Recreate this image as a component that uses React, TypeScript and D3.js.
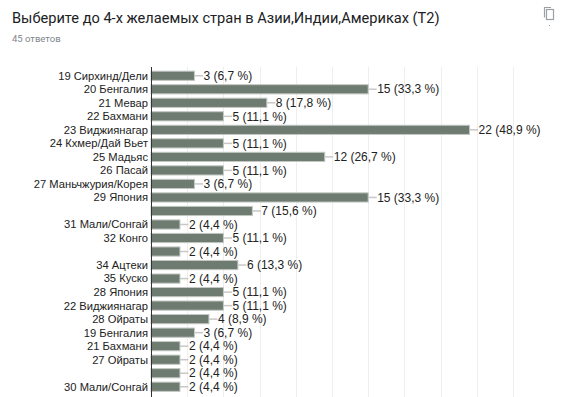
import React from 'react';
import * as d3 from 'd3';

// Chart data: answers per option (blank labels are kept as they appear)
const categories = [
  '19 Сирхинд/Дели', '20 Бенгалия', '21 Мевар', '22 Бахмани', '23 Виджиянагар',
  '24 Кхмер/Дай Вьет', '25 Мадьяс', '26 Пасай', '27 Маньчжурия/Корея', '29 Япония',
  '', '31 Мали/Сонгай', '32 Конго', '', '34 Ацтеки', '35 Куско', '28 Япония',
  '22 Виджиянагар', '28 Ойраты', '19 Бенгалия', '21 Бахмани', '27 Ойраты', '', '30 Мали/Сонгай',
];
const counts = [3, 15, 8, 5, 22, 5, 12, 5, 3, 15, 7, 2, 5, 2, 6, 2, 5, 5, 4, 3, 2, 2, 2, 2];
const percents = [
  '6,7', '33,3', '17,8', '11,1', '48,9', '11,1', '26,7', '11,1', '6,7', '33,3', '15,6', '4,4',
  '11,1', '4,4', '13,3', '4,4', '11,1', '11,1', '8,9', '6,7', '4,4', '4,4', '4,4', '4,4',
];
const gridTicks = [0, 2.5, 5, 7.5, 10, 12.5, 15, 17.5, 20, 22.5, 25];

const title = 'Выберите до 4-х желаемых стран в Азии,Индии,Америках (T2)';
const subtitle = '45 ответов';

const width = 570;
const height = 397;
const plot = { left: 151, right: 513, top: 69, bottom: 393.5 };

const App: React.FC = () => {
  const x = d3.scaleLinear().domain([0, 25]).range([plot.left, plot.right]);
  const y = d3.scaleBand<number>()
    .domain(d3.range(categories.length))
    .range([plot.top, plot.bottom])
    .paddingInner(0.32)
    .paddingOuter(0.16);

  const labelFont = '"Liberation Sans", Arial, sans-serif';

  return (
    <svg
      width={width}
      height={height}
      style={{ position: 'fixed', left: 0, top: 0, background: '#fff' }}
    >
      {/* Header */}
      <text x={12} y={23} fontFamily="Roboto, sans-serif" fontSize={14.6} fill="#202124">
        {title}
      </text>
      <text x={12} y={42} fontFamily="Roboto, sans-serif" fontSize={9.5} fill="#80868b">
        {subtitle}
      </text>
      {/* copy icon */}
      <g fill="none" stroke="#9aa0a6" strokeWidth={1.2}>
        <path d="M544.5 17.5 V7.5 H551" />
        <rect x={546.5} y={9.5} width={7} height={10} fill="#fff" />
      </g>
      <rect x={549} y={25} width={1} height={1} fill="#9aa0a6" />

      {/* Grid */}
      <g>
        {gridTicks.slice(1).map((t) => (
          <line
            key={t}
            x1={Math.round(x(t)) + 0.5}
            x2={Math.round(x(t)) + 0.5}
            y1={plot.top - 2}
            y2={height}
            stroke="#eeeeee"
          />
        ))}
      </g>

      {/* Bars */}
      <g>
        {counts.map((c, i) => {
          const y0 = y(i) ?? 0;
          const bh = y.bandwidth();
          const xe = x(c);
          return (
            <g key={i}>
              <rect
                x={plot.left}
                y={y0}
                width={xe - plot.left}
                height={bh}
                fill="#6e7b71"
                stroke="#c3c8c4"
                strokeWidth={1}
              />
              <line
                x1={xe}
                x2={xe + 8.5}
                y1={y0 + bh / 2}
                y2={y0 + bh / 2}
                stroke="#c8c8c8"
                strokeWidth={1.5}
              />
              <text
                x={xe + 9}
                y={y0 + bh / 2}
                dy="0.35em"
                fontFamily={labelFont}
                fontSize={12}
                fill="#222"
              >
                {`${c} (${percents[i]} %)`}
              </text>
              <text
                x={plot.left - 3}
                y={y0 + bh / 2}
                dy="0.35em"
                textAnchor="end"
                fontFamily={labelFont}
                fontSize={11.2}
                fill="#222"
              >
                {categories[i]}
              </text>
            </g>
          );
        })}
      </g>

      {/* Axis line */}
      <line x1={plot.left + 0.5} x2={plot.left + 0.5} y1={plot.top - 2} y2={height} stroke="#333" />
    </svg>
  );
};

export default App;
